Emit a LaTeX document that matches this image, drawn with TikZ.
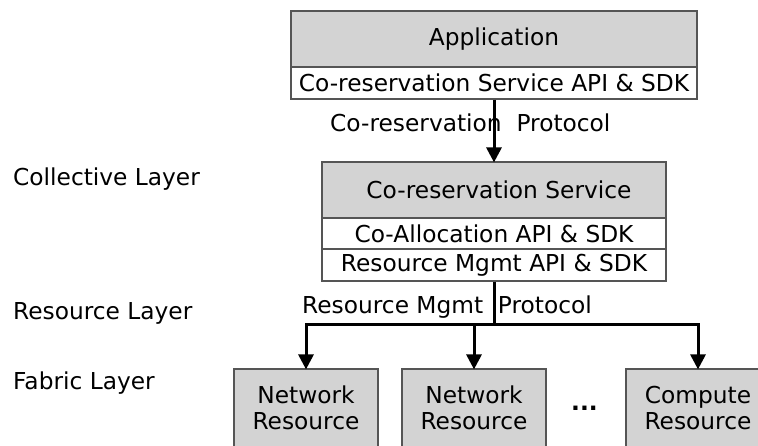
\documentclass[tikz,border=0pt]{standalone}
\usepackage{fontspec}
\setmainfont{DejaVu Sans}
\usetikzlibrary{arrows.meta}
\definecolor{boxgray}{RGB}{211,211,211}
\definecolor{edgegray}{RGB}{85,85,85}
\begin{document}
\begin{tikzpicture}[x=1pt,y=-1pt,
  every node/.style={font=\fontsize{23.3}{26}\selectfont, inner sep=0pt},
  graybox/.style={draw=edgegray, line width=1.2pt, fill=boxgray, rectangle, align=center},
  whitebox/.style={draw=edgegray, line width=1.2pt, fill=white, rectangle},
  lbl/.style={anchor=west},
  conn/.style={line width=3pt, draw=black},
  arr/.style={conn, -{Triangle[width=15pt,length=15pt]}, shorten >=-1pt}
]
\useasboundingbox (0,0) rectangle (758,445);
\clip (0,0) rectangle (758,445);
% top stack
\node[graybox, minimum width=406pt, minimum height=56pt] (app) at (494,39) {Application};
\node[whitebox, minimum width=406pt, minimum height=32pt] (appsdk) at (494,83) {Co-reservation Service API \& SDK};
\node[lbl] (cp) at (330,123) {Co-reservation\ \ Protocol};
% middle stack
\node[graybox, minimum width=344pt, minimum height=56pt] (crs) at (494,190) {\hspace{10pt}Co-reservation Service};
\node[whitebox, minimum width=344pt, minimum height=31pt] (coal) at (494,233.5) {Co-Allocation API \& SDK};
\node[whitebox, minimum width=344pt, minimum height=32pt] (rmsdk) at (494,265) {Resource Mgmt API \& SDK};
\node[lbl] (rmp) at (302,307) {Resource Mgmt\ \ Protocol};
% layer labels
\node[lbl] (coll) at (13,179) {Collective Layer};
\node[lbl] (resl) at (13,313) {Resource Layer};
\node[lbl] (fabl) at (13,383) {Fabric Layer};
% bottom boxes
\node[graybox, minimum width=144pt, minimum height=78pt] (n1) at (306,408) {Network\\Resource};
\node[graybox, minimum width=144pt, minimum height=78pt] (n2) at (474,408) {Network\\Resource};
\node[graybox, minimum width=144pt, minimum height=78pt] (c3) at (698,408) {Compute\\Resource};
\node[font=\fontsize{23.3}{26}\selectfont\bfseries] (dots) at (584.5,408) {...};
% connectors
\draw[arr] (appsdk.south) -- (crs.north);
\coordinate (jm) at (494,324);
\coordinate (jl) at (306,324);
\coordinate (jr) at (698,324);
\draw[conn] (rmsdk.south) -- (jm);
\draw[conn, line cap=rect] (jl) -- (jr);
\draw[arr] (jl) -- (n1.north);
\draw[arr] (n2.north |- jm) -- (n2.north);
\draw[arr] (jr) -- (c3.north);
\end{tikzpicture}
\end{document}
